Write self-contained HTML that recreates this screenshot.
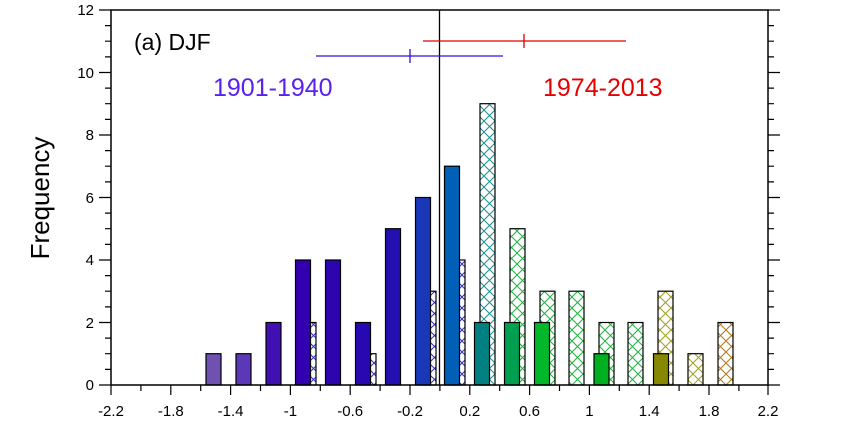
<!DOCTYPE html>
<html><head><meta charset="utf-8"><style>body{margin:0;background:#fff}svg{display:block}text{font-family:"Liberation Sans",sans-serif}</style></head><body>
<svg width="855" height="431" viewBox="0 0 855 431" xmlns="http://www.w3.org/2000/svg">
<defs>
<pattern id="hb" width="11" height="11" patternUnits="userSpaceOnUse"><rect width="11" height="11" fill="#fff"/><path d="M0 0L11 11M11 0L0 11" stroke="#3030c0" stroke-width="1"/></pattern>
<pattern id="ht" width="11" height="11" patternUnits="userSpaceOnUse"><rect width="11" height="11" fill="#fff"/><path d="M0 0L11 11M11 0L0 11" stroke="#1a9090" stroke-width="1"/></pattern>
<pattern id="hg" width="11" height="11" patternUnits="userSpaceOnUse"><rect width="11" height="11" fill="#fff"/><path d="M0 0L11 11M11 0L0 11" stroke="#20b040" stroke-width="1"/></pattern>
<pattern id="ho" width="11" height="11" patternUnits="userSpaceOnUse"><rect width="11" height="11" fill="#fff"/><path d="M0 0L11 11M11 0L0 11" stroke="#a0a020" stroke-width="1"/></pattern>
<pattern id="hr" width="11" height="11" patternUnits="userSpaceOnUse"><rect width="11" height="11" fill="#fff"/><path d="M0 0L11 11M11 0L0 11" stroke="#b07818" stroke-width="1"/></pattern>
</defs>
<g stroke="#000" stroke-width="1.2">
<rect x="301" y="322.5" width="15" height="62.5" fill="url(#hb)"/>
<rect x="361" y="353.7" width="15" height="31.3" fill="url(#hb)"/>
<rect x="421" y="291.2" width="15" height="93.8" fill="url(#hb)"/>
<rect x="450" y="260" width="15" height="125" fill="url(#hb)"/>
<rect x="480" y="103.7" width="15" height="281.3" fill="url(#ht)"/>
<rect x="510" y="228.7" width="15" height="156.3" fill="url(#hg)"/>
<rect x="540" y="291.2" width="15" height="93.8" fill="url(#hg)"/>
<rect x="569" y="291.2" width="15" height="93.8" fill="url(#hg)"/>
<rect x="599" y="322.5" width="15" height="62.5" fill="url(#hg)"/>
<rect x="628" y="322.5" width="15" height="62.5" fill="url(#hg)"/>
<rect x="658" y="291.2" width="15" height="93.8" fill="url(#ho)"/>
<rect x="688" y="353.7" width="15" height="31.3" fill="url(#ho)"/>
<rect x="718" y="322.5" width="15" height="62.5" fill="url(#hr)"/>
<rect x="206" y="353.7" width="15" height="31.3" fill="#7050b0"/>
<rect x="236" y="353.7" width="15" height="31.3" fill="#5a38b8"/>
<rect x="266" y="322.5" width="15" height="62.5" fill="#4010b0"/>
<rect x="295.5" y="260" width="15" height="125" fill="#3300b0"/>
<rect x="325.5" y="260" width="15" height="125" fill="#2c04b0"/>
<rect x="355.5" y="322.5" width="15" height="62.5" fill="#2808b0"/>
<rect x="385.5" y="228.7" width="15" height="156.3" fill="#2410b0"/>
<rect x="415.5" y="197.5" width="15" height="187.5" fill="#1838b8"/>
<rect x="444.5" y="166.2" width="15" height="218.8" fill="#0060b8"/>
<rect x="474.5" y="322.5" width="15" height="62.5" fill="#008080"/>
<rect x="504.5" y="322.5" width="15" height="62.5" fill="#00a050"/>
<rect x="534.5" y="322.5" width="15" height="62.5" fill="#00b82a"/>
<rect x="594" y="353.7" width="15" height="31.3" fill="#00b020"/>
<rect x="653.5" y="353.7" width="15" height="31.3" fill="#888800"/>
</g>
<line x1="439.5" y1="10" x2="439.5" y2="385" stroke="#000" stroke-width="1.3"/>
<g stroke="#e00000" stroke-width="1.3"><line x1="423" y1="41" x2="626" y2="41"/><line x1="524" y1="34" x2="524" y2="48"/></g>
<g stroke="#3010e0" stroke-width="1.3"><line x1="316" y1="56" x2="503" y2="56"/><line x1="410" y1="49" x2="410" y2="63"/></g>
<rect x="111" y="10" width="657" height="375" fill="none" stroke="#000" stroke-width="1.5"/>
<g stroke="#000" stroke-width="1.2">
<path d="M111 385h-12M111 322.5h-12M111 260h-12M111 197.5h-12M111 135h-12M111 72.5h-12M111 10h-12M768 385h12M768 322.5h12M768 260h12M768 197.5h12M768 135h12M768 72.5h12M768 10h12"/>
<path d="M111 369.4h-6M111 353.7h-6M111 338.1h-6M111 306.9h-6M111 291.2h-6M111 275.6h-6M111 244.4h-6M111 228.7h-6M111 213.1h-6M111 181.9h-6M111 166.2h-6M111 150.6h-6M111 119.4h-6M111 103.7h-6M111 88.1h-6M111 56.9h-6M111 41.2h-6M111 25.6h-6M768 369.4h6M768 353.7h6M768 338.1h6M768 306.9h6M768 291.2h6M768 275.6h6M768 244.4h6M768 228.7h6M768 213.1h6M768 181.9h6M768 166.2h6M768 150.6h6M768 119.4h6M768 103.7h6M768 88.1h6M768 56.9h6M768 41.2h6M768 25.6h6"/>
<path d="M111 385v10M140.9 385v6M170.8 385v10M200.7 385v6M230.6 385v10M260.5 385v6M290.4 385v10M320.3 385v6M350.2 385v10M380.1 385v6M410 385v10M439.9 385v6M469.8 385v10M499.7 385v6M529.6 385v10M559.5 385v6M589.4 385v10M619.3 385v6M649.2 385v10M679.1 385v6M709 385v10M738.9 385v6M768 385v10"/>
</g>
<g font-size="15" text-anchor="middle">
<text x="111" y="416">-2.2</text><text x="170.8" y="416">-1.8</text><text x="230.6" y="416">-1.4</text><text x="290.4" y="416">-1</text><text x="350.2" y="416">-0.6</text><text x="410" y="416">-0.2</text><text x="469.8" y="416">0.2</text><text x="529.6" y="416">0.6</text><text x="589.4" y="416">1</text><text x="649.2" y="416">1.4</text><text x="709" y="416">1.8</text><text x="768" y="416">2.2</text>
</g>
<g font-size="15" text-anchor="end">
<text x="94" y="390">0</text><text x="94" y="328">2</text><text x="94" y="265">4</text><text x="94" y="203">6</text><text x="94" y="140">8</text><text x="94" y="78">10</text><text x="94" y="15">12</text>
</g>
<text x="49" y="198" font-size="26" text-anchor="middle" transform="rotate(-90 49 198)">Frequency</text>
<text x="134" y="50" font-size="23">(a) DJF</text>
<text x="213" y="96" font-size="25" fill="#5a20f0">1901-1940</text>
<text x="543" y="96" font-size="25" fill="#e80000">1974-2013</text>
</svg>
</body></html>
